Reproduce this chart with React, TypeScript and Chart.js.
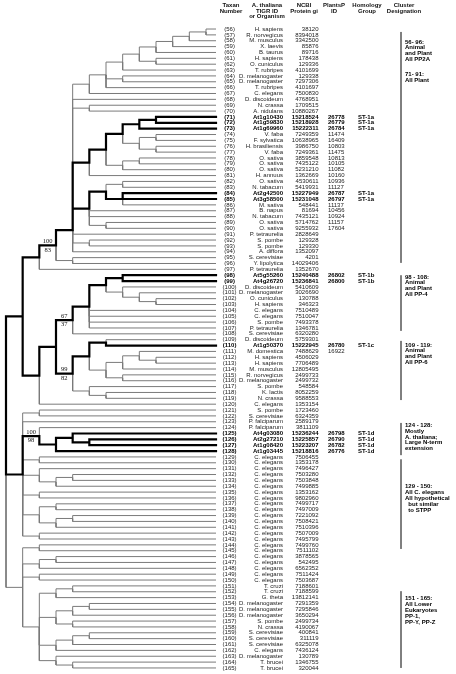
import React, { useEffect, useRef } from "react";
import { Chart, registerables } from "chart.js";

Chart.register(...registerables);

// ---------------- data ----------------
const FIRST_TAXON = 56;

const organisms: string[] = [
  "H. sapiens", "R. norvegicus", "M. musculus", "X. laevis", "B. taurus", "H. sapiens", "O. cuniculus",
  "T. rubripes", "D. melanogaster", "D. melanogaster", "T. rubripes", "C. elegans", "D. discoideum",
  "N. crassa", "A. nidulans", "At1g10430", "At1g59830", "At1g69960", "V. faba", "F. sylvatica",
  "H. brasiliensis", "V. faba", "O. sativa", "O. sativa", "O. sativa", "H. annuus", "O. sativa",
  "N. tabacum", "At2g42500", "At3g58500", "M. sativa", "B. napus", "N. tabacum", "O. sativa",
  "O. sativa", "P. tetraurelia", "S. pombe", "S. pombe", "A. diffora", "S. cerevisiae",
  "Y. lipolytica", "P. tetraurelia", "At5g55260", "At4g26720", "D. discoideum", "D. melanogaster",
  "O. cuniculus", "H. sapiens", "C. elegans", "C. elegans", "S. pombe", "P. tetraurelia",
  "S. cerevisiae", "D. discoideum", "At1g50370", "M. domestica", "H. sapiens", "H. sapiens",
  "M. musculus", "R. norvegicus", "D. melanogaster", "S. pombe", "K. lactis", "N. crassa",
  "C. elegans", "S. pombe", "S. cerevisiae", "P. falciparum", "P. falciparum", "At4g03080",
  "At2g27210", "At1g08420", "At1g03445",
  "C. elegans", "C. elegans", "C. elegans", "C. elegans", "C. elegans", "C. elegans", "C. elegans",
  "C. elegans", "C. elegans", "C. elegans", "C. elegans", "C. elegans", "C. elegans", "C. elegans",
  "C. elegans", "C. elegans", "C. elegans", "C. elegans", "C. elegans", "C. elegans", "C. elegans",
  "C. elegans",
  "T. cruzi", "T. cruzi", "G. theta", "D. melanogaster", "D. melanogaster", "D. melanogaster",
  "S. pombe", "N. crassa", "S. cerevisiae", "S. cerevisiae", "S. cerevisiae", "C. elegans",
  "D. melanogaster", "T. brucei", "T. brucei",
];

const giNumbers: string[] = [
  "38120", "8394018", "3342500", "85876", "89716", "178438", "129336", "4101699", "129338", "7297306",
  "4101697", "7500830", "4768951", "1709515", "10880267", "15218524", "15218928", "15222311", "7249359",
  "10638965", "3986750", "7249361", "3859548", "7435122", "5231210", "1362669", "4530611", "5419931",
  "15227949", "15231048", "548441", "81694", "7435121", "5714762", "9255932", "2828649", "129328",
  "129330", "1352097", "4201", "14029406", "1352670", "15240488", "15236841", "5410609", "3026690",
  "130788", "346323", "7510489", "7510047", "7493378", "1346781", "6320280", "5759301", "15222945",
  "7488629", "4506029", "7706489", "12805495", "2499733", "2499732", "548584", "8052259", "9588553",
  "1353154", "1723460", "6324359", "2589179", "3811109", "15236244", "15225857", "15223207", "15218816",
  "7506455", "1353178", "7496427", "7503280", "7503848", "7499885", "1353162", "9802960", "7499717",
  "7497009", "7221092", "7508421", "7510396", "7507009", "7495799", "7499760", "7511102", "3878565",
  "542495", "6562352", "7511424", "7503687", "7188601", "7188599", "13812141", "7291359", "7295846",
  "3650294", "2499734", "4190067", "400841", "311119", "6325078", "7436124", "130789", "1346755",
  "320044",
];

const plantsPTaxa = [71, 72, 73, 74, 75, 76, 77, 78, 79, 80, 81, 82, 83, 84, 85, 86, 87, 88, 89, 90, 98, 99, 110, 111, 125, 126, 127, 128];
const plantsPIds = ["26778", "26779", "26784", "11474", "16409", "10803", "11475", "10813", "10105", "11082", "10160", "10936", "11127", "26787", "26797", "11137", "10456", "10924", "11157", "17604", "26802", "26800", "26780", "16922", "26798", "26790", "26782", "26776"];

const homologyTaxa = [71, 72, 73, 84, 85, 98, 99, 110, 125, 126, 127, 128];
const homologyGroups = ["ST-1a", "ST-1a", "ST-1a", "ST-1a", "ST-1a", "ST-1b", "ST-1b", "ST-1c", "ST-1d", "ST-1d", "ST-1d", "ST-1d"];

const boldTaxa = homologyTaxa;

const headerLines: string[][] = [
  ["Taxan", "Number"],
  ["A. thaliana", "TIGR ID", "or Organism"],
  ["NCBI", "Protein gi"],
  ["PlantsP", "ID"],
  ["Homology", "Group"],
  ["Cluster", "Designation"],
];

// cluster bars (row ranges) and label blocks (anchor row + lines)
const clusterSpans: [number, number][] = [
  [56.5, 95.9], [98.0, 107.5], [109.2, 119.3], [123.2, 128.7], [129.4, 144.7], [151.9, 165.0],
];
const clusterLabelRows = [58.2, 63.7, 98.3, 109.9, 123.6, 134.1, 153.2];
const clusterLabelLines: string[][] = [
  ["56- 96:", "Animal", "and Plant", "All PP2A"],
  ["71- 91:", "All Plant"],
  ["98 - 108:", "Animal", "and Plant", "All PP-4"],
  ["109 - 119:", "Animal", "and Plant", "All PP-6"],
  ["124 - 128:", "Mostly", "A. thaliana;", "Large N-term", "extension"],
  ["129 - 150:", "All C. elegans", "All hypothetical", "  but similar", "  to STPP"],
  ["151 - 165:", "All Lower", "Eukaryotes", "PP-1,", "PP-Y, PP-Z"],
];

// ---------------- tree topology (leaves = taxon numbers) ----------------
type Spec = number | Spec[] | { c: Spec[]; s?: string[]; at?: number };
const N = (c: Spec[], s?: string[], at?: number): Spec => ({ c, s, at });

const animalClade: Spec = [[[[[[[[56, 57], 58], 59], 60], [61, 62]], 63], [64, 65], 66], 67];
const plantCladeA: Spec = [[[[[71, 72], 73], [[74, 75], [76, 77]]], [[78, 79], 80]], 81];
const plantCladeB: Spec = [[[82, 83], [84, 85, 86]], 87, 88, [89, 90]];
const pp2aCore: Spec = N([animalClade, 68, [69, 70], plantCladeA, plantCladeB, 91, [92, 93], 94], undefined, 90.3);
const pp2aClade: Spec = [N([pp2aCore, [95, 96]], ["100", "83"]), 97];
const pp4Clade: Spec = N([[[[98, 99], [100, [101, [102, 103]]]], 104, 105, 106, 107], 108], ["67", "37"]);
const pp6Clade: Spec = N([[[109, 110], [[[111, [112, 113]], 114], [115, 116]]], [117, [118, 119]]], ["99", "82"]);
const topClade: Spec = [pp2aClade, [[pp4Clade, pp6Clade], 120]];
const st1dClade: Spec = N([124, [[125, [126, 127]], 128]], ["100", "98"]);
const midClade: Spec = [[121, 122], 123, st1dClade, [129, 130], [131, [[132, 133], 134]], [135, 136], [[137, 138], [[139, 140], 141]], [142, 143]];
const lowerEukClade: Spec = [[[151, 152], 153], [[[154, 155], 156], [157, 158]], [[[159, 160], 161], 162], [163, [164, 165]]];
const lowClade: Spec = [[144, 145], [[146, 147], 148], [149, 150], lowerEukClade];
const treeSpec: Spec = [topClade, midClade, lowClade];

// ---------------- layout constants ----------------
const W = 456;
const H = 674;
const LEAF_END_DEPTH = 12.6;
const X_MIN = -0.36;
const X_MAX = 27.0;
const Y_MIN = 51.05;
const Y_MAX = 166.03;

interface LNode { depth: number; y: number; leaf: boolean; bold: boolean; children: LNode[]; s?: string[] }

function build(n: Spec, depth: number): LNode {
  if (typeof n === "number") return { depth, y: n, leaf: true, bold: boldTaxa.includes(n), children: [] };
  const spec = Array.isArray(n) ? { c: n } as { c: Spec[]; s?: string[]; at?: number } : n;
  const ch = spec.c.map((c) => build(c, depth + 1));
  const y = spec.at ?? (ch[0].y + ch[ch.length - 1].y) / 2;
  return { depth, y, leaf: false, bold: ch.some((c) => c.bold), children: ch, s: spec.s };
}

function collect(root: LNode) {
  const grey: any[] = [];
  const bold: any[] = [];
  const labels: { x: number; y: number; s: string[] }[] = [];
  const walk = (p: LNode) => {
    for (const c of p.children) {
      const seg = [
        { x: p.depth, y: p.y },
        { x: p.depth, y: c.y },
        { x: c.leaf ? LEAF_END_DEPTH : c.depth, y: c.y },
        { x: null, y: null },
      ];
      (c.bold ? bold : grey).push(...seg);
      if (c.s) labels.push({ x: (p.depth + c.depth) / 2, y: c.y, s: c.s });
      walk(c);
    }
  };
  walk(root);
  return { grey, bold, labels };
}

const SANS = "'Liberation Sans', Arial, Helvetica, sans-serif";
const SERIF = "'Liberation Serif', 'Times New Roman', serif";

export default function App() {
  const ref = useRef<HTMLCanvasElement>(null);
  useEffect(() => {
    if (!ref.current) return;
    const root = build(treeSpec, 0);
    const { grey, bold, labels } = collect(root);

    const textPlugin = {
      id: "tableText",
      afterDraw(chart: any) {
        const { ctx } = chart;
        const xs = chart.scales.x;
        const ys = chart.scales.y;
        ctx.save();
        // headers
        const headerX = [231, 267, 304, 334, 367, 404];
        ctx.fillStyle = "#111";
        ctx.font = `bold 6px ${SANS}`;
        ctx.textAlign = "center";
        ctx.textBaseline = "middle";
        headerLines.forEach((lines, i) => {
          lines.forEach((t, j) => ctx.fillText(t, headerX[i], 5.5 + j * 5.6));
        });
        // rows
        organisms.forEach((org, i) => {
          const taxon = FIRST_TAXON + i;
          const py = ys.getPixelForValue(taxon);
          const isBold = boldTaxa.includes(taxon);
          ctx.fillStyle = isBold ? "#000" : "#222";
          ctx.font = `${isBold ? "bold " : ""}6px ${SANS}`;
          ctx.textAlign = "center";
          ctx.fillText(`(${taxon})`, 229.6, py);
          ctx.textAlign = "right";
          ctx.fillText(org, 283, py);
          ctx.fillText(giNumbers[i], 318.5, py);
          ctx.textAlign = "left";
          const pi = plantsPTaxa.indexOf(taxon);
          if (pi >= 0) ctx.fillText(plantsPIds[pi], 328, py);
          const hi = homologyTaxa.indexOf(taxon);
          if (hi >= 0) ctx.fillText(homologyGroups[hi], 358, py);
        });
        // cluster bars
        ctx.strokeStyle = "#000";
        ctx.lineWidth = 1;
        clusterSpans.forEach(([a, b]) => {
          ctx.beginPath();
          ctx.moveTo(401, ys.getPixelForValue(a));
          ctx.lineTo(401, ys.getPixelForValue(b));
          ctx.stroke();
        });
        ctx.fillStyle = "#000";
        ctx.font = `bold 6px ${SANS}`;
        ctx.textAlign = "left";
        clusterLabelLines.forEach((lines, i) => {
          const y0 = ys.getPixelForValue(clusterLabelRows[i]);
          lines.forEach((t, j) => ctx.fillText(t, 405, y0 + j * 5.8));
        });
        // bootstrap values
        ctx.font = `6.5px ${SERIF}`;
        ctx.textAlign = "center";
        ctx.fillStyle = "#111";
        labels.forEach((l) => {
          const px = xs.getPixelForValue(l.x);
          const py = ys.getPixelForValue(l.y);
          ctx.fillText(l.s[0], px, py - 4);
          ctx.fillText(l.s[1], px, py + 4.5);
        });
        ctx.restore();
      },
    };

    const chart = new Chart(ref.current, {
      type: "scatter",
      data: {
        datasets: [
          { data: bold, showLine: true, borderColor: "#000", borderWidth: 2.2, pointRadius: 0, spanGaps: false, borderCapStyle: "square", borderJoinStyle: "miter" } as any,
          { data: grey, showLine: true, borderColor: "#7a7a7a", borderWidth: 1, pointRadius: 0, spanGaps: false, borderJoinStyle: "miter" } as any,
        ],
      },
      options: {
        animation: false,
        responsive: false,
        events: [],
        layout: { padding: 0 },
        plugins: { legend: { display: false }, tooltip: { enabled: false } },
        scales: {
          x: { type: "linear", min: X_MIN, max: X_MAX, display: false },
          y: { type: "linear", min: Y_MIN, max: Y_MAX, reverse: true, display: false },
        },
      },
      plugins: [textPlugin],
    });
    return () => chart.destroy();
  }, []);

  return (
    <div style={{ position: "absolute", left: 0, top: 0, width: W, height: H, background: "#fff" }}>
      <canvas ref={ref} width={W} height={H} style={{ width: W, height: H, display: "block" }} />
    </div>
  );
}
